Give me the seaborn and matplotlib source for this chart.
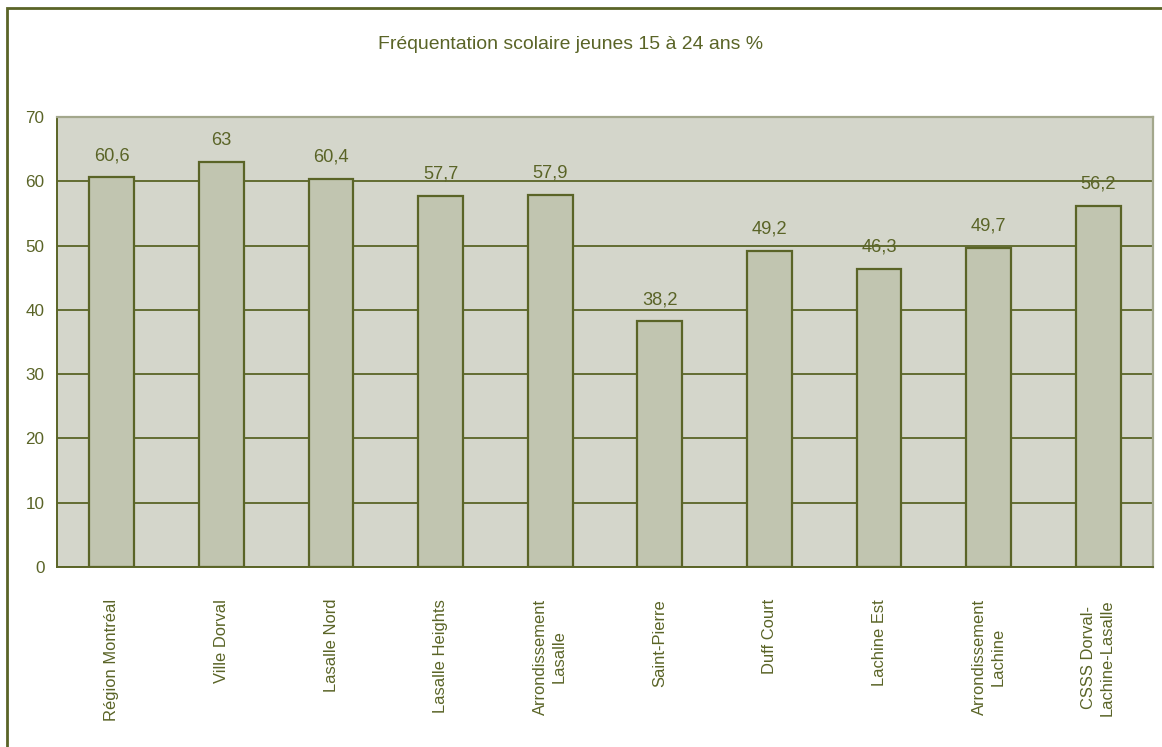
import matplotlib
matplotlib.use("Agg")
import matplotlib.pyplot as plt
import seaborn as sns
import pandas as pd
from matplotlib import font_manager
from matplotlib.patches import Rectangle

OLIVE = "#5a6427"
PLOT_BG = "#d4d6cb"
BAR_FILL = "#c1c5b0"

categories = [
    "Région Montréal",
    "Ville Dorval",
    "Lasalle Nord",
    "Lasalle Heights",
    "Arrondissement\nLasalle",
    "Saint-Pierre",
    "Duff Court",
    "Lachine Est",
    "Arrondissement\nLachine",
    "CSSS Dorval-\nLachine-Lasalle",
]
values = [60.6, 63, 60.4, 57.7, 57.9, 38.2, 49.2, 46.3, 49.7, 56.2]
value_labels = ["60,6", "63", "60,4", "57,7", "57,9", "38,2", "49,2", "46,3", "49,7", "56,2"]
y_ticks = [0, 10, 20, 30, 40, 50, 60, 70]

df = pd.DataFrame({"secteur": categories, "pct": values})

sns.set_style("white")
installed = {f.name for f in font_manager.fontManager.ttflist}
if "Liberation Sans Narrow" in installed:
    plt.rcParams["font.family"] = ["Liberation Sans Narrow", "DejaVu Sans"]
    k = 1.0
else:
    plt.rcParams["font.family"] = ["Liberation Sans", "DejaVu Sans"]
    k = 0.82

fig = plt.figure(figsize=(11.62, 7.47), dpi=100)
ax = fig.add_axes([57 / 1162, 1 - 567 / 747, (1153 - 57) / 1162, (567 - 117) / 747])
ax.set_facecolor(PLOT_BG)

sns.barplot(data=df, x="secteur", y="pct", color=BAR_FILL, width=0.41,
            edgecolor=OLIVE, linewidth=1.6, saturation=1, ax=ax, zorder=3)

ax.set_ylim(0, 70)
ax.set_xlim(-0.5, len(categories) - 0.5)
ax.set_yticks(y_ticks)
ax.set_yticklabels([str(t) for t in y_ticks], color=OLIVE, fontsize=15 * k)
ax.yaxis.grid(True, color=OLIVE, linewidth=1.3, zorder=1)
ax.set_axisbelow(True)

# category labels at centres, tick marks between categories
ax.set_xticks(range(len(categories)))
ax.set_xticklabels(categories, rotation=90, color=OLIVE, fontsize=14.5 * k,
                   ha="center", va="top", multialignment="center", linespacing=1.3)
ax.tick_params(axis="x", which="major", length=0, pad=23)
ax.set_xticks([i - 0.5 for i in range(len(categories) + 1)], minor=True)
ax.tick_params(axis="x", which="minor", length=5, width=1.3, color=OLIVE, direction="out")
ax.tick_params(axis="y", length=5, width=1.3, color=OLIVE, direction="out", pad=4)

ax.set_xlabel("")
ax.set_ylabel("")

for side in ["top", "right"]:
    ax.spines[side].set_color("#a3a78c")
    ax.spines[side].set_linewidth(1.6)
for side in ["left", "bottom"]:
    ax.spines[side].set_color(OLIVE)
    ax.spines[side].set_linewidth(1.4)

for i, (v, lab) in enumerate(zip(values, value_labels)):
    ax.annotate(lab, xy=(i, v), xytext=(0, 12.5), textcoords="offset points",
                ha="center", va="baseline", color=OLIVE, fontsize=16 * k, zorder=5)

fig.text(571 / 1162, 1 - 49 / 747, "Fréquentation scolaire jeunes 15 à 24 ans %",
         ha="center", va="baseline", color=OLIVE, fontsize=17 * k)

# outer frame: only left and top edges fall inside the image
fig.patches.append(Rectangle((7 / 1162, -0.05), 1.1, 1 - 8 / 747 + 0.05,
                             transform=fig.transFigure, fill=False,
                             edgecolor=OLIVE, linewidth=2))

fig.savefig("out.png", dpi=100)
